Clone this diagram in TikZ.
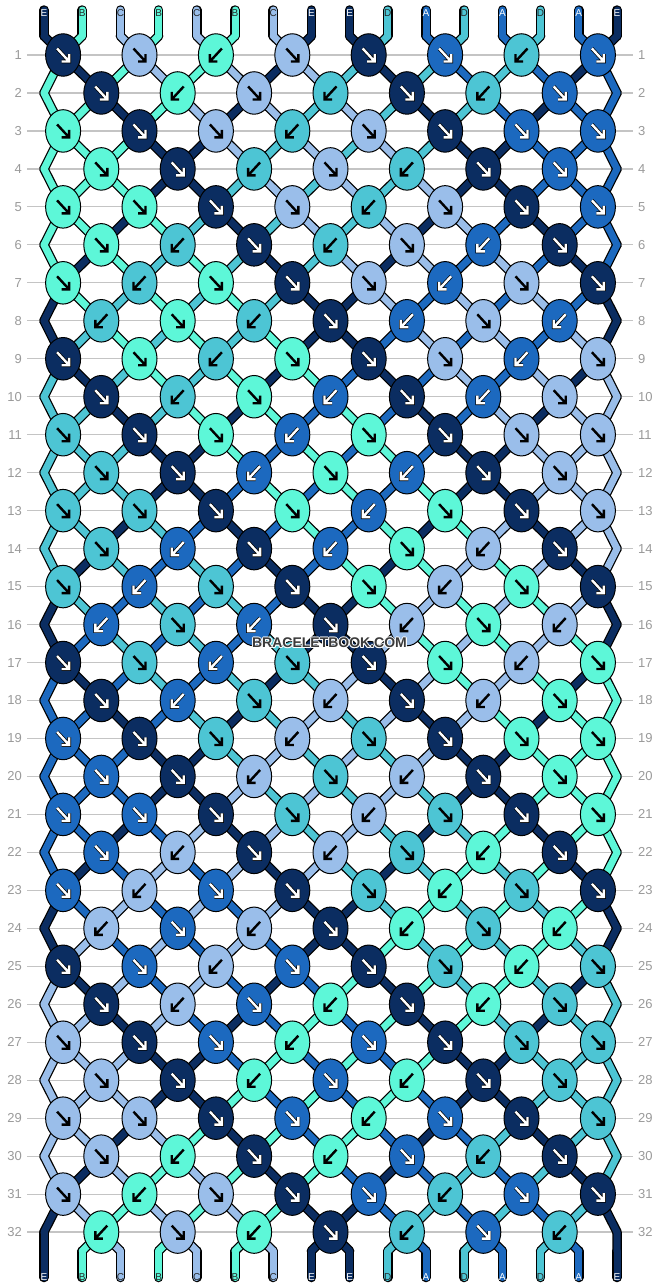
\documentclass[tikz,border=0pt]{standalone}
\usepackage{fontspec}
\setmainfont{Liberation Sans}
\usetikzlibrary{shapes.geometric}
\definecolor{colE}{HTML}{0B2D61}
\definecolor{colA}{HTML}{1C69BF}
\definecolor{colD}{HTML}{4DC5D4}
\definecolor{colB}{HTML}{5DF7D8}
\definecolor{colC}{HTML}{9ABEEA}
\definecolor{gridgray}{HTML}{C4C4C4}
\definecolor{numgray}{HTML}{9A9A9A}
\definecolor{wmark}{HTML}{3A3A3A}
\tikzset{
  outl/.style={line width=9.5pt, draw=black, line cap=round, line join=round},
  thr/.style={line width=7pt, line cap=round, line join=round},
  knotnode/.style={ellipse, draw=black, line width=1pt, minimum width=35pt, minimum height=42.5pt, inner sep=0pt},
  arrowln/.style={line width=2.4pt, line cap=butt, line join=miter},
  arrowout/.style={line width=3.8pt, line cap=butt, line join=miter, draw=black},
  rownum/.style={text=numgray, font=\fontsize{13}{13}\selectfont, inner sep=0pt},
  rowline/.style={draw=gridgray, line width=1.2pt},
  strlab/.style={font=\fontsize{10}{10}\selectfont, inner sep=0pt},
  wmstyle/.style={font=\fontsize{14}{14}\selectfont\bfseries, inner sep=0pt},
}
\newcommand\strc[1]{\csname strc-#1\endcsname}
\newcommand\setstrc[2]{\expandafter\xdef\csname strc-#1\endcsname{#2}}
\newcommand\prevof[1]{\csname prv-#1\endcsname}
\newcommand\setprev[2]{\expandafter\xdef\csname prv-#1\endcsname{#2}}
\expandafter\def\csname rt-1\endcsname{F,F,B,F,F,F,B,F}
\expandafter\def\csname rt-2\endcsname{F,B,F,B,F,B,F}
\expandafter\def\csname rt-3\endcsname{F,F,F,B,F,F,F,F}
\expandafter\def\csname rt-4\endcsname{F,F,B,F,B,F,F}
\expandafter\def\csname rt-5\endcsname{F,F,F,F,B,F,F,F}
\expandafter\def\csname rt-6\endcsname{F,B,F,B,F,B,F}
\expandafter\def\csname rt-7\endcsname{F,B,F,F,F,B,F,F}
\expandafter\def\csname rt-8\endcsname{B,F,B,F,B,F,B}
\newcommand\segoutline[3]{\draw[outl] (#1) -- (#2);}
\newcommand\segcolour[3]{\draw[thr,draw=col#3] (#1) -- (#2);}
\newcommand\segnone[3]{}
\newcommand\knotnone[4]{}
\newcommand\knotreal[4]{%
  \node[knotnode, fill=col#3] (k-#1-#2) at (c-#1-#2) {};
  \if E#3 \def\acol{white}\else\if A#3 \def\acol{white}\else\def\acol{black}\fi\fi
  \if F#4
    \ifx\acol\whitename
      \draw[arrowout, shift={(k-#1-#2.center)}] (-6,-6.5) -- (6,6.5) (6,-1) -- (6,6.5) -- (-1.5,6.5);
    \fi
    \draw[arrowln, draw=\acol, shift={(k-#1-#2.center)}] (-6,-6.5) -- (6,6.5) (6,-1) -- (6,6.5) -- (-1.5,6.5);
  \else
    \ifx\acol\whitename
      \draw[arrowout, shift={(k-#1-#2.center)}] (6,-6.5) -- (-6,6.5) (-6,-1) -- (-6,6.5) -- (1.5,6.5);
    \fi
    \draw[arrowln, draw=\acol, shift={(k-#1-#2.center)}] (6,-6.5) -- (-6,6.5) (-6,-1) -- (-6,6.5) -- (1.5,6.5);
  \fi
}
\def\whitename{white}
\newcommand\runpattern{%
  \foreach \p/\ci in {1/E,2/B,3/C,4/B,5/C,6/B,7/C,8/E,9/E,10/D,11/A,12/D,13/A,14/D,15/A,16/E}{%
    \setstrc{\p}{\ci}\setprev{\p}{tb\p}\segment{tt\p}{tb\p}{\ci}}%
  \foreach \rr in {1,...,32}{%
    \pgfmathtruncatemacro\mm{mod(\rr-1,8)+1}%
    \ifodd\rr \def\off{0}\else \def\off{1}%
      \edef\fromn{\prevof{1}}\edef\scol{\strc{1}}\segment{\fromn}{eL\rr}{\scol}\setprev{1}{eL\rr}%
      \edef\fromn{\prevof{16}}\edef\scol{\strc{16}}\segment{\fromn}{eR\rr}{\scol}\setprev{16}{eR\rr}%
    \fi
    \edef\types{\csname rt-\mm\endcsname}%
    \foreach \tp [count=\kk] in \types {%
      \pgfmathtruncatemacro\pa{2*\kk-1+\off}%
      \pgfmathtruncatemacro\pb{\pa+1}%
      \edef\lcol{\strc{\pa}}\edef\rcol{\strc{\pb}}%
      \edef\froma{\prevof{\pa}}\edef\fromb{\prevof{\pb}}%
      \segment{\froma}{c-\rr-\kk}{\lcol}%
      \segment{\fromb}{c-\rr-\kk}{\rcol}%
      \if F\tp \edef\kc{\lcol}\else \edef\kc{\rcol}\fi
      \setstrc{\pa}{\rcol}\setstrc{\pb}{\lcol}%
      \setprev{\pa}{c-\rr-\kk}\setprev{\pb}{c-\rr-\kk}%
      \knotdraw{\rr}{\kk}{\kc}{\tp}%
    }%
  }%
  \foreach \p in {1,...,16}{\edef\fromn{\prevof{\p}}\edef\scol{\strc{\p}}%
     \segment{\fromn}{bb\p}{\scol}\segment{bb\p}{be\p}{\scol}}%
}
\begin{document}
\begin{tikzpicture}[x=1pt,y=-1pt]
\fill[white] (0,0) rectangle (658,1288);
\useasboundingbox (0,0) rectangle (658,1288);
\foreach \rr in {1,...,32}{%
  \pgfmathsetmacro\yy{55+37.97*(\rr-1)}%
  \draw[rowline] (27,\yy) -- (633,\yy);
  \node[rownum,anchor=east] (nl\rr) at (22,\yy) {\rr};
  \node[rownum,anchor=west] (nr\rr) at (638,\yy) {\rr};
  \ifodd\rr
    \foreach \kk in {1,...,8}{\coordinate (c-\rr-\kk) at ({63.1+76.4*(\kk-1)},\yy);}
  \else
    \foreach \kk in {1,...,7}{\coordinate (c-\rr-\kk) at ({101.3+76.4*(\kk-1)},\yy);}
    \coordinate (eL\rr) at (44,\yy);
    \coordinate (eR\rr) at (617,\yy);
  \fi
}
\foreach \p in {1,...,16}{%
  \pgfmathsetmacro\xx{44+38.2*(\p-1)}%
  \coordinate (tt\p) at (\xx,10);
  \coordinate (tb\p) at (\xx,36);
  \coordinate (bb\p) at (\xx,1251);
  \coordinate (be\p) at (\xx,1277.5);
  \coordinate (lt\p) at (\xx,13.5);
  \coordinate (lb\p) at (\xx,1277);
}
\let\segment\segoutline \let\knotdraw\knotnone \runpattern
\let\segment\segcolour \runpattern
\let\segment\segnone \let\knotdraw\knotreal \runpattern
\foreach \p/\ci in {1/E,2/B,3/C,4/B,5/C,6/B,7/C,8/E,9/E,10/D,11/A,12/D,13/A,14/D,15/A,16/E}{%
  \if E\ci \def\lc{white}\else\if A\ci \def\lc{white}\else\def\lc{black!85}\fi\fi
  \node[strlab,text=\lc] (tl\p) at (lt\p) {\ci};
}
\foreach \p in {1,...,16}{%
  \edef\ci{\strc{\p}}%
  \if E\ci \def\lc{white}\else\if A\ci \def\lc{white}\else\def\lc{black!85}\fi\fi
  \node[strlab,text=\lc] (bl\p) at (lb\p) {\ci};
}
\foreach \dx/\dy [count=\h] in {1/0,-1/0,0/1,0/-1,0.8/0.8,-0.8/0.8,0.8/-0.8,-0.8/-0.8}{%
  \node[wmstyle, text=white, opacity=0.85] (wmh\h) at (329.5+\dx,643+\dy) {BRACELETBOOK.COM};
}
\node[wmstyle, text=wmark] (wm) at (329.5,643) {BRACELETBOOK.COM};
\end{tikzpicture}
\end{document}
